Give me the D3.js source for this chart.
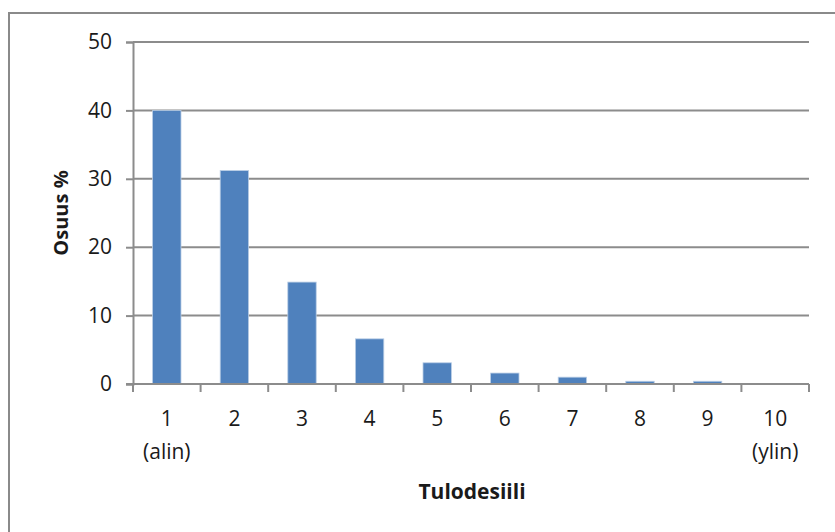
<!DOCTYPE html>
<html>
<head>
<meta charset="utf-8">
<script src="https://cdn.jsdelivr.net/npm/d3@7"></script>
<style>
  html, body { margin: 0; padding: 0; background: #fff; }
  svg { display: block; }
  text { font-family: "Open Sans", "Noto Sans", sans-serif; fill: #1a1a1a; }
</style>
</head>
<body>
<svg id="chart" width="835" height="532"></svg>
<script>
// Income deciles and share (%) per decile
const deciles = ["1", "2", "3", "4", "5", "6", "7", "8", "9", "10"];
const subLabels = ["(alin)", "", "", "", "", "", "", "", "", "(ylin)"];
const shares = [40.0, 31.2, 14.9, 6.6, 3.1, 1.6, 1.0, 0.4, 0.4, 0.0];
const yTicks = [0, 10, 20, 30, 40, 50];

const svg = d3.select("#chart");
const W = 835, H = 532;
const plot = { left: 133, right: 809, top: 42, bottom: 384 };
const labelSize = 21;

// outer chart frame
svg.append("rect")
  .attr("x", 9).attr("y", 13)
  .attr("width", W + 10).attr("height", H + 10)
  .attr("fill", "none").attr("stroke", "#8a8a8a").attr("stroke-width", 2);

const x = d3.scaleBand().domain(deciles)
  .range([plot.left, plot.right]).paddingInner(0.58).paddingOuter(0.29);
const xOuter = d3.scaleBand().domain(deciles).range([plot.left, plot.right]);
const y = d3.scaleLinear().domain([0, 50]).range([plot.bottom, plot.top]);

// horizontal gridlines
svg.append("g").selectAll("line").data(yTicks.filter(d => d > 0)).join("line")
  .attr("x1", plot.left).attr("x2", plot.right)
  .attr("y1", d => y(d)).attr("y2", d => y(d))
  .attr("stroke", "#8c8c8c").attr("stroke-width", 2);

// bars
svg.append("g").selectAll("rect").data(deciles).join("rect")
  .attr("x", d => x(d))
  .attr("width", x.bandwidth())
  .attr("y", (d, i) => y(shares[i]))
  .attr("height", (d, i) => y(0) - y(shares[i]))
  .attr("fill", "#4f81bd")
  .attr("stroke", "#b9cde5").attr("stroke-width", 0.8);

// y axis
const yAxis = svg.append("g").attr("transform", `translate(${plot.left},0)`)
  .call(d3.axisLeft(y).tickValues(yTicks).tickSize(7).tickPadding(14));
yAxis.select(".domain").attr("stroke", "#8c8c8c").attr("stroke-width", 2);
yAxis.selectAll(".tick line").attr("stroke", "#8c8c8c").attr("stroke-width", 2);
yAxis.selectAll(".tick text").attr("font-size", labelSize).attr("fill", "#1a1a1a")
  .style("font-family", "'Open Sans', sans-serif");

// x axis: ticks at category boundaries
const xAxisG = svg.append("g").attr("transform", `translate(0,${plot.bottom})`);
xAxisG.append("line")
  .attr("x1", plot.left - 7).attr("x2", plot.right)
  .attr("stroke", "#8c8c8c").attr("stroke-width", 2);
const bounds = deciles.map(d => xOuter(d)).concat([plot.right]);
xAxisG.selectAll("line.tk").data(bounds).join("line").attr("class", "tk")
  .attr("x1", d => d).attr("x2", d => d).attr("y1", 0).attr("y2", 8)
  .attr("stroke", "#8c8c8c").attr("stroke-width", 2);
xAxisG.selectAll("text.num").data(deciles).join("text").attr("class", "num")
  .attr("x", d => xOuter(d) + xOuter.bandwidth() / 2)
  .attr("y", 42).attr("text-anchor", "middle").attr("font-size", labelSize)
  .text(d => d);
xAxisG.selectAll("text.sub").data(deciles).join("text").attr("class", "sub")
  .attr("x", d => xOuter(d) + xOuter.bandwidth() / 2)
  .attr("y", 75).attr("text-anchor", "middle").attr("font-size", labelSize)
  .text((d, i) => subLabels[i]);

// axis titles
svg.append("text")
  .attr("transform", `translate(68,${(plot.top + plot.bottom) / 2}) rotate(-90)`)
  .attr("text-anchor", "middle").attr("font-size", 20).attr("font-weight", "bold")
  .text("Osuus %");
svg.append("text")
  .attr("x", (plot.left + plot.right) / 2 + 1).attr("y", 499)
  .attr("text-anchor", "middle").attr("font-size", 21).attr("font-weight", "bold")
  .text("Tulodesiili");
</script>
</body>
</html>
